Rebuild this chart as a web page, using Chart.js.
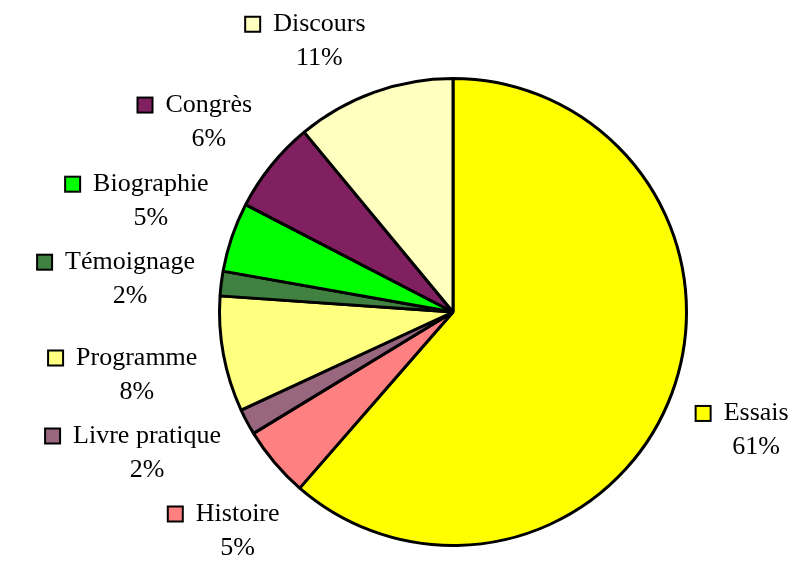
<!DOCTYPE html>
<html lang="fr">
<head>
  <meta charset="UTF-8">
  <title>Répartition par genre</title>
  <script src="https://cdn.jsdelivr.net/npm/chart.js"></script>
  <style>
    html, body {
      margin: 0;
      padding: 0;
      background: #ffffff;
    }
    #graph-container {
      width: 793px;
      height: 563px;
    }
  </style>
</head>
<body>
  <div id="graph-container">
    <canvas id="camembert" width="793" height="563"></canvas>
  </div>

  <script>
    // données (en %)
    const categories = ["Essais", "Histoire", "Livre pratique", "Programme", "Témoignage", "Biographie", "Congrès", "Discours"];
    const parts = [61.4, 4.9, 1.8, 8.0, 1.7, 4.8, 6.4, 11.0];
    const couleurs = ["#FFFF00", "#FF8080", "#996680", "#FFFF80", "#408040", "#00FF00", "#802060", "#FFFFC0"];

    // étiquettes : carré de légende + nom, pourcentage en dessous
    // le coin de la boîte le plus proche du centre est posé sur un cercle autour du camembert
    const etiquettes = {
      id: "etiquettes",
      afterDatasetsDraw(chart) {
        const ctx = chart.ctx;
        const arcs = chart.getDatasetMeta(0).data;
        const total = parts.reduce((a, b) => a + b, 0);
        const H = chart.height;
        ctx.save();
        ctx.font = "26px 'Liberation Serif', 'Times New Roman', serif";

        const cx0 = arcs[0].x, cy0 = arcs[0].y;
        const D = arcs[0].outerRadius + 24.5;
        const h = 56;
        const ecart = 78;

        let boites = arcs.map((arc, i) => {
          const a = (arc.startAngle + arc.endAngle) / 2;
          const c = Math.cos(a), s = Math.sin(a);
          const tw = ctx.measureText(categories[i]).width;
          return {
            i: i, tw: tw, w: 29 + tw,
            gauche: c < 0,
            haut: s < 0,
            y: cy0 + s * D + (s < 0 ? -h / 2 : h / 2)
          };
        });

        // éviter les chevauchements de chaque côté
        [true, false].forEach(g => {
          const cote = boites.filter(b => b.gauche === g).sort((p, q) => p.y - q.y);
          let prec = -Infinity;
          cote.forEach(b => {
            b.y = Math.max(b.y, 37, prec + ecart);
            prec = b.y;
          });
          let suiv = Infinity;
          for (let k = cote.length - 1; k >= 0; k--) {
            const b = cote[k];
            b.y = Math.min(b.y, H - 32, suiv - ecart);
            suiv = b.y;
          }
        });

        // position horizontale : coin sur le cercle de rayon D
        boites.forEach(b => {
          const coinY = b.haut ? b.y + h / 2 : b.y - h / 2;
          const dy = coinY - cy0;
          const dx = Math.sqrt(Math.max(D * D - dy * dy, 0));
          b.x = b.gauche ? cx0 - dx - b.w / 2 : cx0 + dx + b.w / 2;
        });

        boites.forEach(b => {
          const gauche = b.x - b.w / 2;
          const yNom = b.y - 17;
          const xTexte = gauche + 29;

          ctx.fillStyle = couleurs[b.i];
          ctx.fillRect(gauche + 1, yNom - 7.5, 15, 15);
          ctx.strokeStyle = "#000000";
          ctx.lineWidth = 2;
          ctx.strokeRect(gauche + 1, yNom - 7.5, 15, 15);

          ctx.fillStyle = "#000000";
          ctx.textBaseline = "middle";
          ctx.textAlign = "left";
          ctx.fillText(categories[b.i], xTexte, yNom);

          const pct = Math.round(parts[b.i] / total * 100) + "%";
          ctx.textAlign = "center";
          ctx.fillText(pct, xTexte + b.tw / 2, b.y + 17);
        });
        ctx.restore();
      }
    };

    const ctx = document.getElementById("camembert").getContext("2d");
    const chart = new Chart(ctx, {
      type: "pie",
      data: {
        labels: categories,
        datasets: [{
          data: parts,
          backgroundColor: couleurs,
          borderColor: "#000000",
          borderWidth: 3
        }]
      },
      options: {
        responsive: false,
        animation: false,
        layout: {
          padding: { left: 218, right: 105, top: 77, bottom: 16 }
        },
        plugins: {
          legend: { display: false },
          tooltip: { enabled: false }
        }
      },
      plugins: [etiquettes]
    });
  </script>
</body>
</html>
